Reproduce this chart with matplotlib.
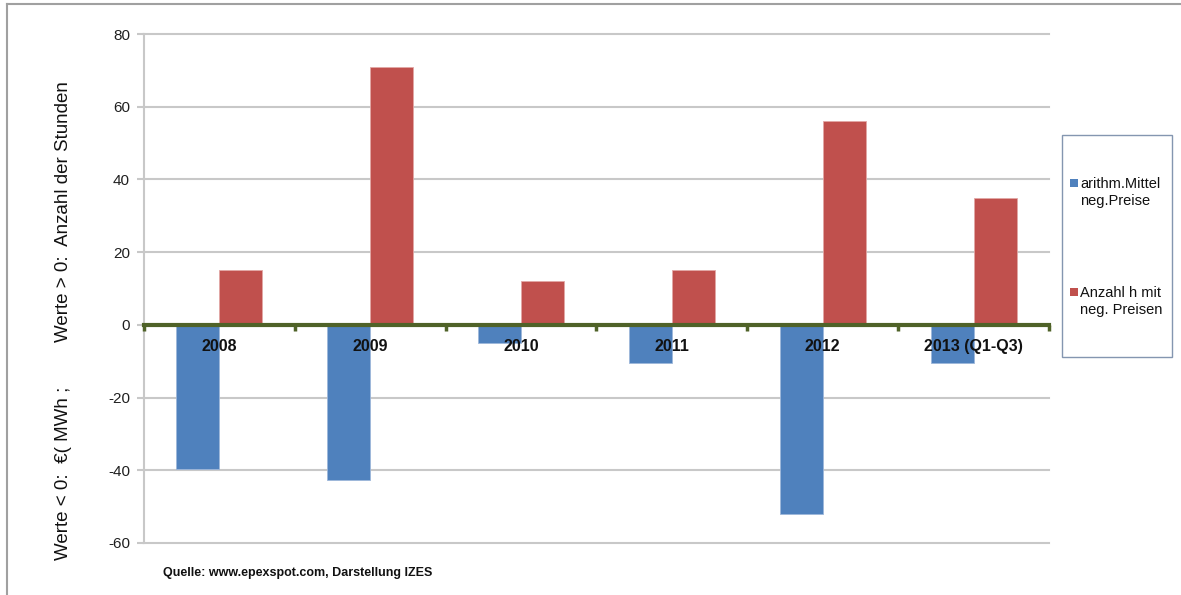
import matplotlib
matplotlib.use("Agg")
import matplotlib.pyplot as plt
from matplotlib.lines import Line2D
from matplotlib.patches import Rectangle
import numpy as np

plt.rcParams['font.family'] = ['Liberation Sans', 'DejaVu Sans']

years = ["2008", "2009", "2010", "2011", "2012", "2013 (Q1-Q3)"]
mean_neg_price = [-39.7, -42.6, -4.9, -10.6, -52.0, -10.4]
hours_neg_price = [15, 71, 12, 15, 56, 35]
series_labels = ["arithm.Mittel\nneg.Preise", "Anzahl h mit\nneg. Preisen"]
y_ticks = [-60, -40, -20, 0, 20, 40, 60, 80]

W, H = 1181, 595
fig = plt.figure(figsize=(W / 100, H / 100), dpi=100)
fig.patch.set_facecolor("white")


def fx(px):
    return px / W


def fy(py):
    return 1 - py / H


ax = fig.add_axes([fx(144), fy(543), (1049 - 144) / W, (543 - 34) / H])

x = np.arange(len(years))
bw = 0.285
blue = "#4F81BD"
red = "#C0504D"
grid_c = "#C8C8C8"
green = "#4F6228"
colors = [blue, red]

ax.bar(x - bw / 2, mean_neg_price, bw, color=blue, edgecolor="#9DB7DA", linewidth=0.6, zorder=3)
ax.bar(x + bw / 2, hours_neg_price, bw, color=red, edgecolor="#E2A7A5", linewidth=0.6, zorder=3)

ax.set_xlim(-0.5, len(years) - 0.5)
ax.set_ylim(-60, 80)
ax.set_yticks(y_ticks)
ax.set_yticklabels([str(v) for v in y_ticks], fontsize=11, color="#202020")

# horizontal gridlines
for v in y_ticks:
    ax.axhline(v, color=grid_c, linewidth=1.5, zorder=1, clip_on=False)

# category axis sitting on the zero line
ax.spines['bottom'].set_position(('data', 0))
ax.spines['bottom'].set_color(green)
ax.spines['bottom'].set_linewidth(3)
ax.spines['bottom'].set_zorder(4)
ax.spines['top'].set_visible(False)
ax.spines['right'].set_visible(False)
ax.spines['left'].set_color(grid_c)
ax.spines['left'].set_linewidth(1.5)

ax.set_xticks(x)
ax.set_xticklabels(years, fontsize=11.5, fontweight="bold", color="#111111")
ax.set_xticks(np.arange(-0.5, len(years), 1.0), minor=True)
ax.tick_params(axis='x', which='major', length=0, pad=10)
ax.tick_params(axis='x', which='minor', length=4, width=2.5, color=green, direction='out')
ax.tick_params(axis='y', length=5, width=1.5, color=grid_c, pad=5)
ax.xaxis.set_zorder(5)

# rotated axis captions
fig.text(fx(63), fy(560), "Werte < 0:  €( MWh ;", rotation=90, rotation_mode='anchor',
         ha='left', va='center', fontsize=13.5, color="#111111")
fig.text(fx(63), fy(342), "Werte > 0:  Anzahl der Stunden", rotation=90, rotation_mode='anchor',
         ha='left', va='center', fontsize=13.5, color="#111111")

# source note
fig.text(fx(163), fy(573), "Quelle: www.epexspot.com, Darstellung IZES",
         fontsize=9, fontweight="bold", ha='left', va='center', color="#111111")

# legend box with swatches
fig.add_artist(Rectangle((fx(1062), fy(357)), (1172 - 1062) / W, (357 - 135) / H,
                         transform=fig.transFigure, facecolor="white",
                         edgecolor="#8496B0", linewidth=1.0))
for label, col, first_line_y in zip(series_labels, colors, [183, 292]):
    fig.add_artist(Rectangle((fx(1070), fy(first_line_y + 4)), 8 / W, 8 / H,
                             transform=fig.transFigure, facecolor=col, edgecolor="none"))
    fig.text(fx(1080), fy(first_line_y + 9.5), label, ha='left', va='center',
             fontsize=10.5, linespacing=1.3, color="#111111")

# outer chart border
fig.add_artist(Line2D([fx(7), fx(7)], [0, fy(4)], color="#A0A0A0", linewidth=1.5))
fig.add_artist(Line2D([fx(7), 1], [fy(4), fy(4)], color="#A0A0A0", linewidth=1.5))

fig.savefig("out.png", dpi=100, facecolor="white")
